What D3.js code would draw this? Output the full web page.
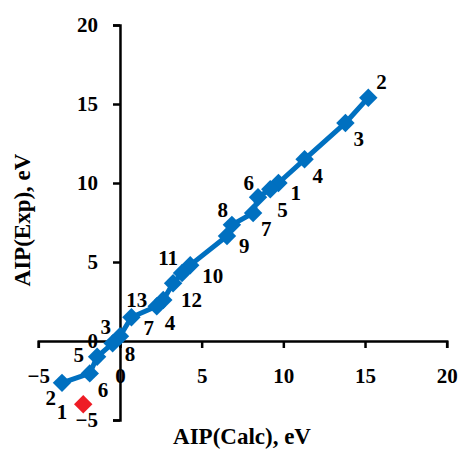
<!DOCTYPE html>
<html>
<head>
<meta charset="utf-8">
<script src="https://cdn.jsdelivr.net/npm/d3@7"></script>
<style>
	body { margin: 0; background: #fff; }
	text { font-family: "Liberation Serif", "Times New Roman", serif; font-weight: bold; fill: #000; }
</style>
</head>
<body>
<svg id="chart"></svg>
<script>
// first set: points 1..13
const set1Labels = ["1", "2", "3", "4", "5", "6", "7", "8", "9", "10", "11", "12", "13"];
const set1Calc = [9.7, 15.2, 13.8, 11.3, 9.2, 8.45, 8.15, 6.85, 6.55, 4.3, 3.8, 3.25, 2.65];
const set1Exp = [10.0, 15.4, 13.8, 11.5, 9.6, 9.1, 8.1, 7.35, 6.65, 4.8, 4.3, 3.65, 2.6];
const set1Place = ["e", "ne", "se", "se", "s", "nw", "se", "nw", "e", "e", "nw", "se", "ww"];

// second set: points 2..8
const set2Labels = ["2", "3", "4", "5", "6", "7", "8"];
const set2Calc = [-3.55, 0.0, 2.25, -1.4, -1.85, 0.7, -0.45];
const set2Exp = [-2.65, 0.3, 2.2, -1.0, -2.05, 1.5, -0.15];
const set2Place = ["sw", "wnw", "se", "w", "se", "e", "e"];

// outlier (red)
const outLabels = ["1"];
const outCalc = [-2.25];
const outExp = [-4.0];
const outPlace = ["wsw"];

const xTicks = [-5, 0, 5, 10, 15, 20];
const yTicks = [-5, 0, 5, 10, 15, 20];

const width = 460;
const height = 450;
const blue = "#0070c0";
const red = "#ee1c25";

const svg = d3.select("#chart")
	.attr("width", width)
	.attr("height", height);

const x = d3.scaleLinear().domain([-5, 20]).range([38.3, 446.7]);
const y = d3.scaleLinear().domain([-5, 20]).range([420, 25]);

// label anchor table: text-anchor, dx, dy
const place = {
	e: ["start", 12, 10],
	se: ["start", 8, 16],
	s: ["start", 7, 20],
	ne: ["start", 8, -16],
	nw: ["end", -4, -15],
	wnw: ["end", -9, -10],
	w: ["end", -13, -2],
	ww: ["end", -16, 0],
	sw: ["end", -6, 15],
	wsw: ["end", -16, 7]
};

// axes
const xAxis = d3.axisBottom(x).tickValues(xTicks).tickSize(7).tickPadding(20)
	.tickFormat(d3.format("d"));
const yAxis = d3.axisLeft(y).tickValues(yTicks).tickSize(7).tickPadding(15)
	.tickFormat(d3.format("d"));

const gy = svg.append("g")
	.attr("transform", `translate(${x(0)}, 0)`)
	.call(yAxis);
const gx = svg.append("g")
	.attr("transform", `translate(0, ${y(0)})`)
	.call(xAxis);

[gx, gy].forEach(g => {
	g.selectAll("path, line").attr("stroke", "#000").attr("stroke-width", 2.5);
	g.selectAll("text")
		.attr("fill", "#000")
		.attr("font-family", null)
		.style("font-size", "21px");
});

// connecting line through all blue points, ordered by x
const bluePts = set1Calc.map((v, i) => [v, set1Exp[i]])
	.concat(set2Calc.map((v, i) => [v, set2Exp[i]]))
	.sort((a, b) => a[0] - b[0]);

svg.append("path")
	.datum(bluePts)
	.attr("fill", "none")
	.attr("stroke", blue)
	.attr("stroke-width", 5)
	.attr("stroke-linejoin", "round")
	.attr("d", d3.line().x(d => x(d[0])).y(d => y(d[1])));

const marker = d3.symbol().type(d3.symbolSquare).size(170);

function drawSet(labels, xs, ys, places, color) {
	const pts = labels.map((l, i) => ({ label: l, cx: xs[i], cy: ys[i], pos: places[i] }));
	svg.append("g").selectAll("path")
		.data(pts)
		.join("path")
		.attr("d", marker)
		.attr("fill", color)
		.attr("transform", d => `translate(${x(d.cx)}, ${y(d.cy)}) rotate(45)`);
	return pts;
}

const allLabels = []
	.concat(drawSet(set1Labels, set1Calc, set1Exp, set1Place, blue))
	.concat(drawSet(set2Labels, set2Calc, set2Exp, set2Place, blue))
	.concat(drawSet(outLabels, outCalc, outExp, outPlace, red));

svg.append("g").selectAll("text")
	.data(allLabels)
	.join("text")
	.attr("x", d => x(d.cx) + place[d.pos][1])
	.attr("y", d => y(d.cy) + place[d.pos][2])
	.attr("dy", "0.35em")
	.attr("text-anchor", d => place[d.pos][0])
	.style("font-size", "21px")
	.text(d => d.label);

// axis titles
svg.append("text")
	.attr("x", 242)
	.attr("y", 444)
	.attr("text-anchor", "middle")
	.style("font-size", "23px")
	.text("AIP(Calc), eV");

svg.append("text")
	.attr("transform", "translate(30, 220) rotate(-90)")
	.attr("text-anchor", "middle")
	.style("font-size", "23px")
	.text("AIP(Exp), eV");
</script>
</body>
</html>
